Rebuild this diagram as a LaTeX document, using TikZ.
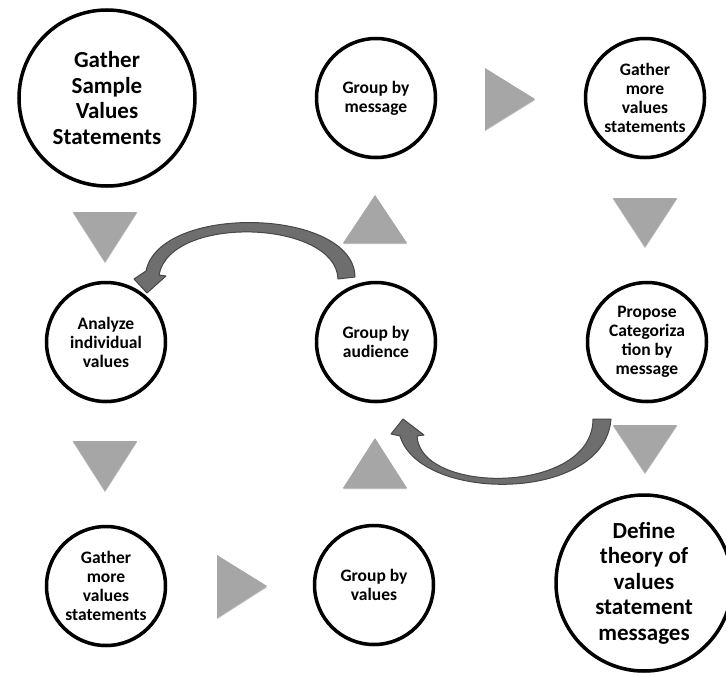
\documentclass[tikz,border=0pt]{standalone}
\usepackage{fontspec}
\setmainfont{Carlito}
\usetikzlibrary{shadows}
\definecolor{trianglegray}{HTML}{A6A6A6}
\definecolor{arrowfill}{HTML}{6E6E6E}
\definecolor{arrowline}{HTML}{474747}

\begin{document}
\begin{tikzpicture}[x=1pt,y=-1pt,
  stepbox/.style={circle, draw=black, line width=3.5pt, fill=white,
    inner sep=0pt, minimum size=119pt, align=center,
    font=\bfseries\fontsize{17.5}{19}\selectfont,
    drop shadow={shadow xshift=0pt, shadow yshift=-2pt, opacity=0.25, fill=black}},
  bigbox/.style={stepbox, minimum size=176pt,
    font=\bfseries\fontsize{23}{25.5}\selectfont},
  pointer/.style={fill=trianglegray,
    drop shadow={shadow xshift=0pt, shadow yshift=-1.2pt, opacity=0.25, fill=black}},
  loop/.style={fill=arrowfill, draw=arrowline, line width=1pt, line join=round}
]
\useasboundingbox (0,0) rectangle (726,677);

% process steps
\node[bigbox]  (gather)   at (107,98)  {Gather\\Sample\\Values\\Statements};
\node[stepbox] (message)  at (376,98)  {Group by\\message};
\node[stepbox] (more)     at (645,98)  {Gather\\more\\values\\statements};
\node[stepbox] (analyze)  at (106,342) {Analyze\\individual\\values};
\node[stepbox] (audience) at (376,342) {Group by\\audience};
\node[stepbox] (propose)  at (647,342) {Propose\\Categoriza\\tion by\\message};
\node[stepbox] (moreb)    at (106,586) {Gather\\more\\values\\statements};
\node[stepbox] (values)   at (374,585) {Group by\\values};
\node[bigbox]  (define)   at (644,583) {Define\\theory of\\values\\statement\\messages};

% direction triangles between the steps
\path[pointer] (73,212) -- (137,212) -- (105,262) -- cycle;
\path[pointer] (343,243) -- (407,243) -- (375,195) -- cycle;
\path[pointer] (485,68) -- (485,130) -- (535,99) -- cycle;
\path[pointer] (613,198) -- (677,198) -- (645,247) -- cycle;
\path[pointer] (73,441) -- (137,441) -- (105,491) -- cycle;
\path[pointer] (343,488) -- (407,488) -- (375,438) -- cycle;
\path[pointer] (217,555) -- (217,618) -- (267,586) -- cycle;
\path[pointer] (613,425) -- (677,425) -- (645,473) -- cycle;

% curved arrow: audience back to analyze
\path[loop] (355,277) .. controls (354,208) and (160,203) .. (146,271)
  -- (134,279) -- (147,293) -- (166,276) -- (159,275)
  .. controls (170,214) and (336,220) .. (338,279) -- cycle;

% curved arrow: propose back to audience
\path[loop] (611,419) .. controls (605,503) and (420,503) .. (400,436)
  -- (391,434) -- (403,419) -- (424,435) -- (417,436)
  .. controls (420,495) and (593,495) .. (593,419) -- cycle;
\end{tikzpicture}
\end{document}
